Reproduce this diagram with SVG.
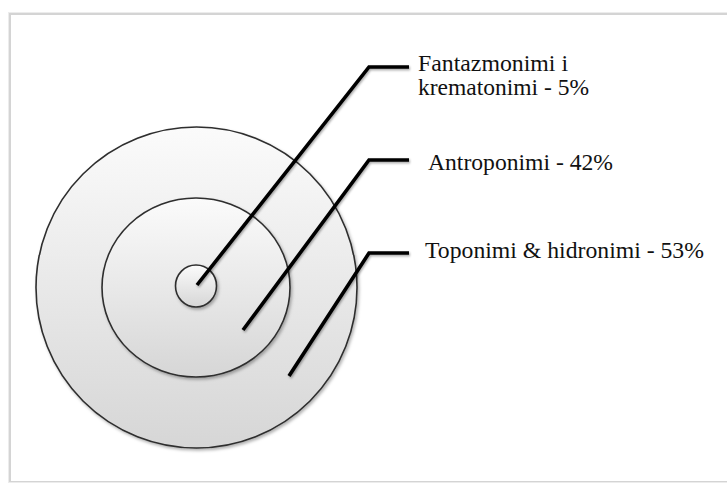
<svg xmlns="http://www.w3.org/2000/svg" width="727" height="484" viewBox="0 0 727 484">
  <style>
    .ring { stroke: #2e2e2e; stroke-width: 1.6; }
    .lead { fill: none; stroke: #000; stroke-width: 3.6; stroke-linejoin: miter; stroke-linecap: butt; }
    .lbl { font-family: "Liberation Serif", "Times New Roman", Tinos, "DejaVu Serif", serif; font-size: 22.5px; fill: #111; }
  </style>
  <defs>
    <linearGradient id="g" x1="0" y1="0" x2="0" y2="1">
      <stop offset="0" stop-color="#fbfbfb"/>
      <stop offset="1" stop-color="#d6d6d6"/>
    </linearGradient>
    <filter id="sh" x="-10%" y="-10%" width="125%" height="125%">
      <feDropShadow dx="1.5" dy="2" stdDeviation="1.5" flood-color="#000" flood-opacity="0.3"/>
    </filter>
    <filter id="lsh" x="-10%" y="-10%" width="125%" height="125%">
      <feDropShadow dx="1" dy="1.5" stdDeviation="1" flood-color="#000" flood-opacity="0.35"/>
    </filter>
  </defs>

  <rect x="0" y="0" width="727" height="484" fill="#fff"/>
  <g id="frame">
    <rect x="8" y="12" width="740" height="471" fill="#ececec"/>
    <rect x="9" y="13" width="740" height="469" fill="#d4d4d4"/>
    <rect x="11" y="15" width="740" height="466" fill="#fff"/>
  </g>

  <g id="outer">
    <ellipse class="ring" cx="196.5" cy="287.5" rx="160.5" ry="160.5" fill="url(#g)" filter="url(#sh)"/>
  </g>
  <g id="middle">
    <ellipse class="ring" cx="196" cy="287.5" rx="94" ry="89.5" fill="url(#g)" filter="url(#sh)"/>
  </g>
  <g id="inner">
    <ellipse class="ring" cx="196" cy="286" rx="20.5" ry="21" fill="url(#g)" filter="url(#sh)"/>
  </g>

  <g id="connectors" filter="url(#lsh)">
    <polyline class="lead" points="197,285 369,67 409,67"/>
    <polyline class="lead" points="243,330 369,160 409,160"/>
    <polyline class="lead" points="289,376 369,253 409,253"/>
  </g>

  <g id="label-fantazmonimi">
    <text class="lbl" x="418" y="71" textLength="150" lengthAdjust="spacingAndGlyphs">Fantazmonimi i</text>
    <text class="lbl" x="418" y="95" textLength="171" lengthAdjust="spacingAndGlyphs">krematonimi - 5%</text>
  </g>
  <g id="label-antroponimi">
    <text class="lbl" x="428" y="170" textLength="185" lengthAdjust="spacingAndGlyphs">Antroponimi - 42%</text>
  </g>
  <g id="label-toponimi">
    <text class="lbl" x="425" y="258" textLength="279" lengthAdjust="spacingAndGlyphs">Toponimi &amp; hidronimi - 53%</text>
  </g>
</svg>
